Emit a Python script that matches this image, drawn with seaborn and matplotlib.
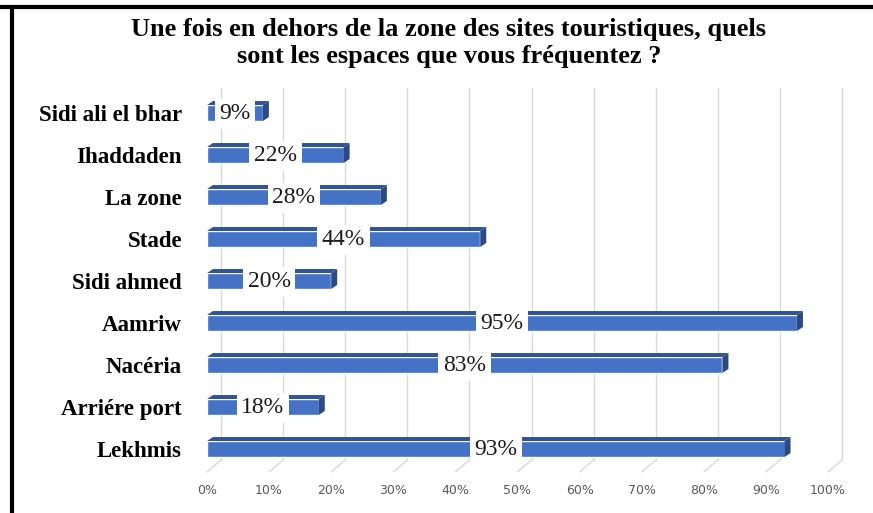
import numpy as np
import pandas as pd
import matplotlib
matplotlib.use('Agg')
import matplotlib.pyplot as plt
import seaborn as sns
from matplotlib.patches import Polygon
from matplotlib.lines import Line2D
from matplotlib.transforms import blended_transform_factory

places = ['Sidi ali el bhar', 'Ihaddaden', 'La zone', 'Stade', 'Sidi ahmed',
          'Aamriw', 'Nacéria', 'Arriére port', 'Lekhmis']
pct = [9, 22, 28, 44, 20, 95, 83, 18, 93]
xticks = [0, 10, 20, 30, 40, 50, 60, 70, 80, 90, 100]

title = ("Une fois en dehors de la zone des sites touristiques, quels\n"
         "sont les espaces que vous fréquentez ?")

df = pd.DataFrame({'lieu': places, 'pct': pct})

sns.set_style('white')
plt.rcParams['font.family'] = ['Liberation Serif', 'DejaVu Serif']

W, H = 873, 513
fig = plt.figure(figsize=(W / 100, H / 100), dpi=100)
ax_l, ax_r, ax_t, ax_b = 207, 828, 92, 470
ax = fig.add_axes([ax_l / W, 1 - ax_b / H, (ax_r - ax_l) / W, (ax_b - ax_t) / H])

front = '#4472C4'
top_c = '#2F5597'
side_c = '#2B4A84'

sns.barplot(data=df, x='pct', y='lieu', orient='h', color=front, saturation=1,
            width=0.38, ax=ax, zorder=3)
ax.set_xlim(0, 100)
ax.set_ylim(len(places) - 0.5, -0.5)

# 3D depth in pixels -> data units
px_x = 100 / (ax_r - ax_l)
px_y = len(places) / (ax_b - ax_t)
ddx, ddy = 6 * px_x, 4 * px_y

for p in ax.patches:
    x0, y0 = p.get_x(), p.get_y()
    w, h = p.get_width(), p.get_height()
    ytop, ybot = y0, y0 + h
    topf = Polygon([(x0, ytop), (x0 + w, ytop), (x0 + w + ddx, ytop - ddy), (x0 + ddx, ytop - ddy)],
                   closed=True, color=top_c, zorder=3, lw=0)
    sidef = Polygon([(x0 + w, ytop), (x0 + w + ddx, ytop - ddy), (x0 + w + ddx, ybot - ddy), (x0 + w, ybot)],
                    closed=True, color=side_c, zorder=3, lw=0)
    ax.add_patch(topf)
    ax.add_patch(sidef)
    ax.text(x0 + w / 2, y0 + h / 2 + 0.02, f'{int(round(w))}%', ha='center', va='center',
            fontsize=17, color='#1a1a1a', zorder=5,
            bbox=dict(boxstyle='square,pad=0.2', fc='white', ec='none'))

# back wall gridlines + floor diagonals
bt = blended_transform_factory(ax.transData, ax.transAxes)
gdx = 14 * px_x
gdy = 10 / (ax_b - ax_t)
for t in xticks:
    ax.add_line(Line2D([t + gdx, t + gdx], [gdy, 1.01], transform=bt, color='#D9D9D9',
                       lw=1, zorder=1, clip_on=False))
    ax.add_line(Line2D([t, t + gdx], [-0.005, gdy], transform=bt, color='#D9D9D9',
                       lw=1, zorder=1, clip_on=False))

ax.set_xticks(xticks)
ax.set_xticklabels([f'{t}%' for t in xticks], fontsize=9, color='#595959',
                   family='DejaVu Sans')
ax.tick_params(axis='x', length=0, pad=10)
ax.tick_params(axis='y', length=0, pad=18)
for lab in ax.get_yticklabels():
    lab.set_fontsize(16.5)
    lab.set_fontweight('bold')
    lab.set_color('black')
ax.set_xlabel('')
ax.set_ylabel('')
ax.grid(False)
sns.despine(ax=ax, left=True, bottom=True)

fig.text(449 / W, 1 - 43 / H, title, ha='center', va='center', fontsize=19,
         fontweight='bold', color='black', linespacing=1.25)

# frame lines (top and left)
fig.add_artist(Line2D([0, 1], [1 - 7 / H, 1 - 7 / H], color='black', lw=3, transform=fig.transFigure))
fig.add_artist(Line2D([12 / W, 12 / W], [0, 1 - 7 / H], color='black', lw=3, transform=fig.transFigure))

fig.savefig('out.png', dpi=100)
